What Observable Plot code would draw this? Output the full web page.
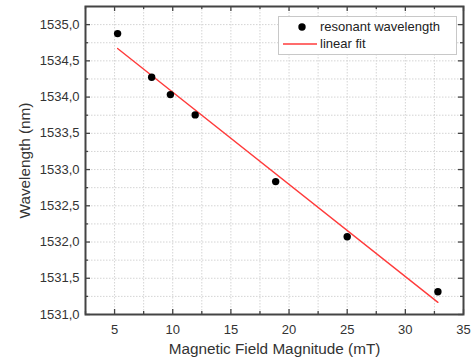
<!DOCTYPE html>
<html><head><meta charset="utf-8">
<script src="https://cdn.jsdelivr.net/npm/d3@7"></script>
<script src="https://cdn.jsdelivr.net/npm/@observablehq/plot@0.6"></script>
<style>
body{margin:0;background:#fff;font-family:"Liberation Sans",Arial,sans-serif}
#wrap{position:relative;width:472px;height:362px}
#wrap svg{font-family:"Liberation Sans",Arial,sans-serif}
g[aria-label="x-axis label"], g[aria-label="y-axis label"]{font-size:15.3px}
g[aria-label="x-axis tick label"], g[aria-label="y-axis tick label"]{font-size:13px}
#legend{position:absolute;left:278px;top:16px;width:177px;height:37px;border:1px solid #c8c8c8;background:#fff;font-size:13px;color:#222}
#legend .row{position:absolute;left:0;height:16px;line-height:16px;width:100%}
#legend .row span{position:absolute;left:41px}
#legend svg{position:absolute;left:0;top:0}
</style></head><body>
<div id="wrap">
  <div id="legend">
    <div class="row" style="top:2px"><svg width="40" height="16"><circle cx="23" cy="8" r="3.7" fill="#000"/></svg><span>resonant wavelength</span></div>
    <div class="row" style="top:19px"><svg width="40" height="16"><line x1="4" x2="38" y1="8" y2="8" stroke="#ff3b3b" stroke-width="1.4"/></svg><span>linear fit</span></div>
  </div>
</div>
<script>
const fieldMT = [5.26, 8.19, 9.8, 11.93, 18.85, 25.0, 32.8];
const wavelengthNm = [1534.876, 1534.273, 1534.034, 1533.754, 1532.834, 1532.072, 1531.313];
const xMajorTicks = [5, 10, 15, 20, 25, 30, 35];
const xMinorTicks = [2.5, 7.5, 12.5, 17.5, 22.5, 27.5, 32.5];
const yMajorTicks = [1531, 1531.5, 1532, 1532.5, 1533, 1533.5, 1534, 1534.5, 1535];
const yMinorTicks = [1531.25, 1531.75, 1532.25, 1532.75, 1533.25, 1533.75, 1534.25, 1534.75];
const xGrid = xMajorTicks.concat(xMinorTicks);
const yGrid = yMajorTicks.concat(yMinorTicks);

const data = fieldMT.map((x, i) => ({x, y: wavelengthNm[i]}));

const W = 472, H = 362, mt = 6, mb = 48, ml = 85, mr = 9;
const fh = H - mt - mb, fw = W - ml - mr;
const axisColor = "#444";

const chart = Plot.plot({
  width: W, height: H,
  marginTop: mt, marginBottom: mb, marginLeft: ml, marginRight: mr,
  style: {background: "#fff", color: "#333"},
  x: {domain: [2.5, 35]},
  y: {domain: [1531, 1535.25]},
  marks: [
    Plot.gridX(xGrid, {stroke: "#d4d4d4", strokeOpacity: 1, strokeDasharray: "1.5,1.5"}),
    Plot.gridY(yGrid, {stroke: "#d4d4d4", strokeOpacity: 1, strokeDasharray: "1.5,1.5"}),
    // inward ticks, bottom and top
    Plot.ruleX(xMajorTicks, {insetTop: fh - 5, stroke: axisColor, strokeWidth: 1.3}),
    Plot.ruleX(xMajorTicks, {insetBottom: fh - 5, stroke: axisColor, strokeWidth: 1.3}),
    Plot.ruleX(xMinorTicks, {insetTop: fh - 3, stroke: axisColor, strokeWidth: 1.3}),
    Plot.ruleX(xMinorTicks, {insetBottom: fh - 3, stroke: axisColor, strokeWidth: 1.3}),
    Plot.ruleY(yMajorTicks, {insetRight: fw - 5, stroke: axisColor, strokeWidth: 1.3}),
    Plot.ruleY(yMajorTicks, {insetLeft: fw - 5, stroke: axisColor, strokeWidth: 1.3}),
    Plot.ruleY(yMinorTicks, {insetRight: fw - 3, stroke: axisColor, strokeWidth: 1.3}),
    Plot.ruleY(yMinorTicks, {insetLeft: fw - 3, stroke: axisColor, strokeWidth: 1.3}),
    Plot.axisX(xMajorTicks, {tickSize: 0, tickPadding: 10, tickFormat: d => String(d),
      label: "Magnetic Field Magnitude (mT)", labelAnchor: "center", labelOffset: 39, labelArrow: "none"}),
    Plot.axisY(yMajorTicks, {tickSize: 0, tickPadding: 6, tickFormat: d => d.toFixed(1).replace(".", ","),
      label: "Wavelength (nm)", labelAnchor: "center", labelOffset: 66, labelArrow: "none"}),
    Plot.linearRegressionY(data, {x: "x", y: "y", ci: 0, stroke: "#ff3b3b", strokeWidth: 1.4}),
    Plot.dot(data, {x: "x", y: "y", r: 3.7, fill: "#000", stroke: null}),
    Plot.frame({stroke: axisColor, strokeWidth: 2})
  ]
});
document.getElementById("wrap").prepend(chart);
</script>
</body></html>
